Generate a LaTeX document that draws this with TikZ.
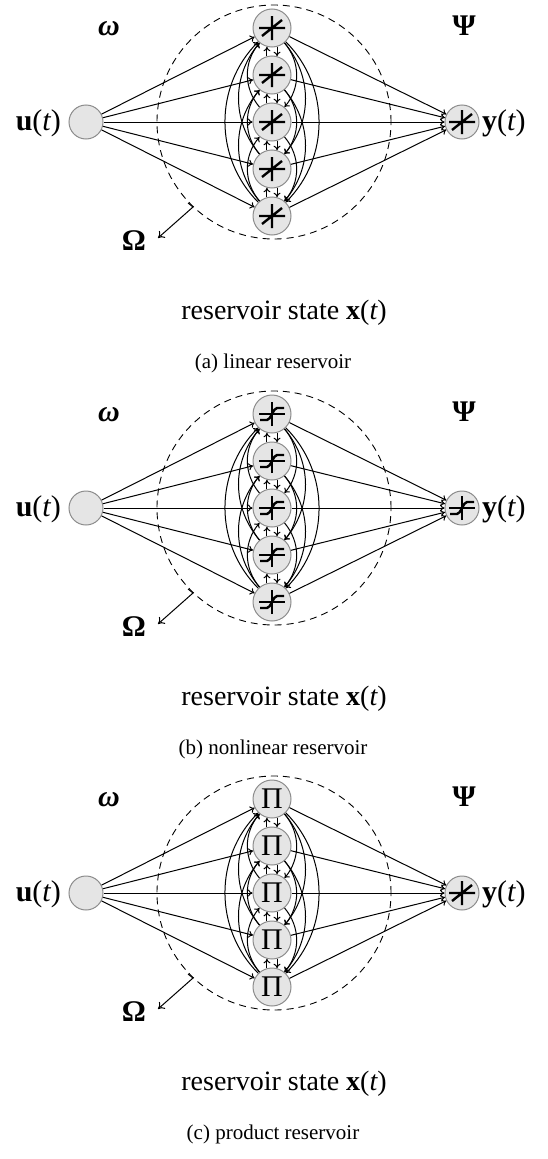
\documentclass[tikz,border=0pt]{standalone}
\usepackage{fontspec}
\setmainfont{Liberation Serif}
\usetikzlibrary{arrows.meta}
\tikzset{
  neuron/.style={circle, draw=black!45, fill=black!10, line width=1pt, minimum size=38pt, inner sep=0pt},
  ionode/.style={circle, draw=black!45, fill=black!10, line width=1pt, minimum size=34pt, inner sep=0pt},
  conn/.style={line width=1pt, -{To[length=4.5pt,width=7pt]}},
  symline/.style={line width=2.4pt},
  lbl/.style={inner sep=0pt, anchor=base, font=\fontsize{30}{36}\selectfont},
  statelbl/.style={inner sep=0pt, anchor=base, font=\fontsize{28}{34}\selectfont},
  caplbl/.style={inner sep=0pt, anchor=base, font=\fontsize{21}{25}\selectfont},
  resring/.style={circle, draw, dashed, dash pattern=on 7pt off 5pt, line width=0.9pt, minimum size=234pt, inner sep=0pt},
  omarrow/.style={line width=1pt, -{To[length=6pt,width=9pt]}},
  linpic/.pic={\draw[symline] (-13,0)--(13,0) (0,-12)--(0,12) (-10,-8)--(10,8);},
  nlpic/.pic={\draw[symline] (-13,0)--(13,0) (0,-12)--(0,12);
              \draw[symline] (-12,-6)--(-5,-6) .. controls (-1,-6) and (1,6) .. (5,6) -- (12,6);},
  prodpic/.pic={\node[inner sep=0pt, font=\fontsize{30}{32}\selectfont] {Π};},
}
\newcommand{\rpanel}[5]{%
\begin{scope}[yshift=-#2pt]
  \node[resring] (#1ring) at (274,-122) {};
  \node[ionode] (#1in) at (86,-122) {};
  \foreach \k/\yy in {1/28,2/75,3/122,4/169,5/216} {
    \node[neuron] (#1r\k) at (272,-\yy) {};
    \pic at (#1r\k) {#3};
  }
  \node[ionode] (#1out) at (462,-122) {};
  \pic at (#1out) {#4};
  \foreach \k in {1,...,5} {
    \draw[conn] (#1in) -- (#1r\k);
    \draw[conn] (#1r\k) -- (#1out);
  }
  \foreach \i/\j in {1/2,2/3,3/4,4/5} {
    \draw[conn] (#1r\j.105) -- (#1r\i.255);
    \draw[conn] (#1r\i.285) -- (#1r\j.75);
  }
  \foreach \i/\j/\b in {1/3/40,2/4/40,3/5/40,1/4/40,2/5/40,1/5/45} {
    \draw[conn] (#1r\i) to[bend left=\b] (#1r\j);
    \draw[conn] (#1r\j) to[bend left=\b] (#1r\i);
  }
  \node[lbl] (#1w) at (109,-35) {\bfseries\itshape ω};
  \node[lbl] (#1psi) at (464,-35) {\bfseries Ψ};
  \node[lbl, anchor=base east] (#1u) at (61,-130) {{\bfseries u}({\itshape t})};
  \node[lbl, anchor=base west] (#1y) at (482,-130) {{\bfseries y}({\itshape t})};
  \node[lbl] (#1om) at (134,-250) {\bfseries Ω};
  \coordinate (#1o1) at (188,-203);
  \coordinate (#1o2) at (193,-207);
  \coordinate (#1o3) at (158,-238);
  \draw[omarrow] (#1o1) -- (#1o2) -- (#1o3);
  \node[statelbl] (#1st) at (284,-319) {reservoir state {\bfseries x}({\itshape t})};
  \node[caplbl] (#1cap) at (273,-368) {#5};
\end{scope}}
\begin{document}
\begin{tikzpicture}[x=1pt,y=1pt]
  \useasboundingbox (0,0) rectangle (548,-1159);
  \rpanel{a}{0}{linpic}{linpic}{(a) linear reservoir}
  \rpanel{b}{386}{nlpic}{nlpic}{(b) nonlinear reservoir}
  \rpanel{c}{771}{prodpic}{linpic}{(c) product reservoir}
\end{tikzpicture}
\end{document}
